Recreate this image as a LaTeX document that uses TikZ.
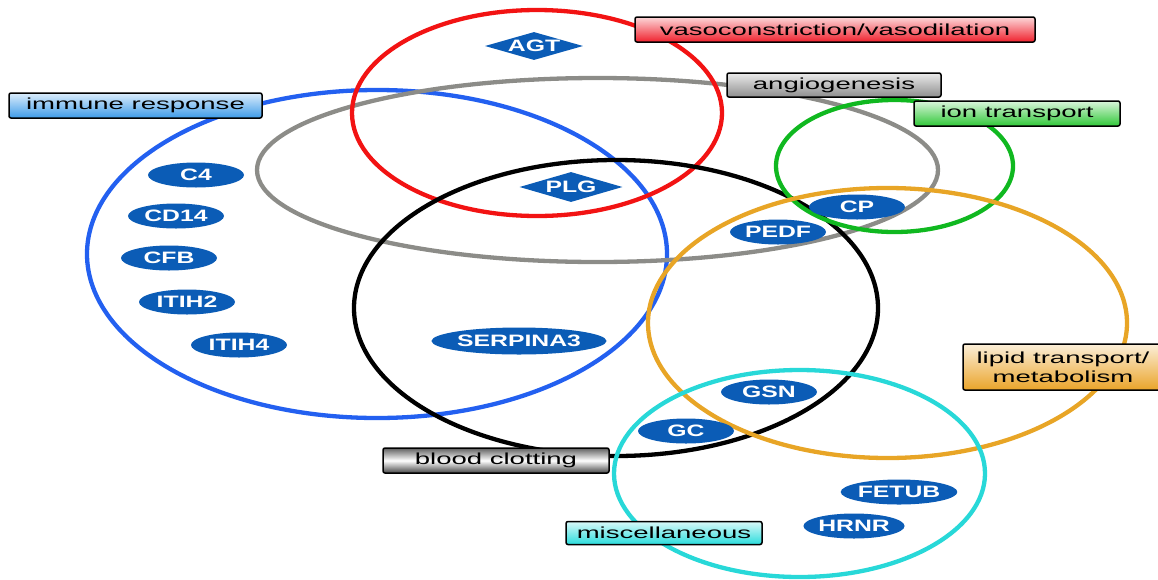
\documentclass[tikz,border=0pt]{standalone}
\usepackage{fontspec}
\setmainfont{Liberation Sans}
\usepackage{graphicx}
\usetikzlibrary{shapes.geometric}
\definecolor{protblue}{HTML}{0B5CB6}
\definecolor{ringred}{HTML}{F21313}
\definecolor{ringgray}{HTML}{8C8C88}
\definecolor{ringblue}{HTML}{2360F0}
\definecolor{ringgreen}{HTML}{10B820}
\definecolor{ringorange}{HTML}{E8A526}
\definecolor{ringcyan}{HTML}{28D8D8}
\definecolor{tagblue}{HTML}{3D9BE9}
\definecolor{tagred}{HTML}{F0202C}
\definecolor{taggray}{HTML}{8E8E8E}
\definecolor{taggreen}{HTML}{30C838}
\definecolor{tagorange}{HTML}{EAA42A}
\definecolor{tagcyan}{HTML}{2ADCDC}
\newcommand{\wide}[2][1.5]{\scalebox{#1}[1]{#2}}
\begin{document}
\begin{tikzpicture}[x=1pt,y=-1pt,
  ring/.style={line width=4.3pt},
  prot/.style={ellipse,fill=protblue,text=white,minimum width=96pt,minimum height=25pt,
    inner sep=0pt,font=\fontsize{16.5}{18}\selectfont\bfseries},
  protd/.style={diamond,fill=protblue,text=white,shape aspect=3.5,inner sep=0pt,
    font=\fontsize{16.5}{18}\selectfont\bfseries},
  tag/.style={draw=black,line width=1.5pt,rounded corners=2pt,minimum height=25pt,
    inner sep=0pt,font=\fontsize{16}{19}\selectfont,top color=#1!18!white,bottom color=#1}]
\clip (0,0) rectangle (1158,579);
% the seven groups
\draw[ring,ringblue] (377,254) ellipse [x radius=290, y radius=164];
\draw[ring,ringgray] (597.5,170) ellipse [x radius=340.5, y radius=92];
\draw[ring,ringred] (537,113) ellipse [x radius=185, y radius=103];
\draw[ring,black] (616,308) ellipse [x radius=262, y radius=148];
\draw[ring,ringgreen] (894.5,166) ellipse [x radius=118.5, y radius=66];
\draw[ring,ringorange] (887.5,323) ellipse [x radius=239.5, y radius=135];
\draw[ring,ringcyan] (799.5,473.5) ellipse [x radius=185.5, y radius=103.5];
% proteins
\node[protd,minimum width=98pt,minimum height=28pt] (AGT) at (534,46) {\wide{AGT}};
\node[protd,minimum width=103pt,minimum height=30pt] (PLG) at (571,187) {\wide{PLG}};
\foreach \x/\y/\lab in {196/175/C4,176/216/CD14,169/258/CFB,187/302/ITIH2,239/345/ITIH4,
  778/232/PEDF,857/207/CP,769/392/GSN,686/431/GC,899/492/FETUB,854/526/HRNR}{
  \node[prot] (\lab) at (\x,\y) {\wide{\lab}};
}
\node[prot,minimum width=135pt,minimum height=27pt] (SERPINA3) at (519,341) {\wide{SERPINA3}};
% group labels
\node[tag=tagblue,minimum width=253pt] (immune) at (135.5,105.5) {\wide[1.72]{immune response}};
\node[tag=tagred,minimum width=400pt] (vaso) at (835,29.5) {\wide[1.72]{vasoconstriction/vasodilation}};
\node[tag=taggray,minimum width=214pt,minimum height=24pt] (angio) at (834,85) {\wide[1.72]{angiogenesis}};
\node[tag=taggreen,minimum width=206pt] (ion) at (1017,113.5) {\wide[1.72]{ion transport}};
\node[tag=tagorange,minimum width=200pt,minimum height=46pt,align=center] (lipid) at (1063,367)
  {\wide[1.72]{lipid transport/}\\\wide[1.72]{metabolism}};
\node[tag=taggray,top color=gray!75!black,bottom color=gray!55!black,middle color=white,
  minimum width=226pt] (clot) at (496,460.5) {\wide[1.72]{blood clotting}};
\node[tag=tagcyan,minimum width=196pt,minimum height=23pt] (misc) at (664,533) {\wide[1.72]{miscellaneous}};
\end{tikzpicture}
\end{document}
